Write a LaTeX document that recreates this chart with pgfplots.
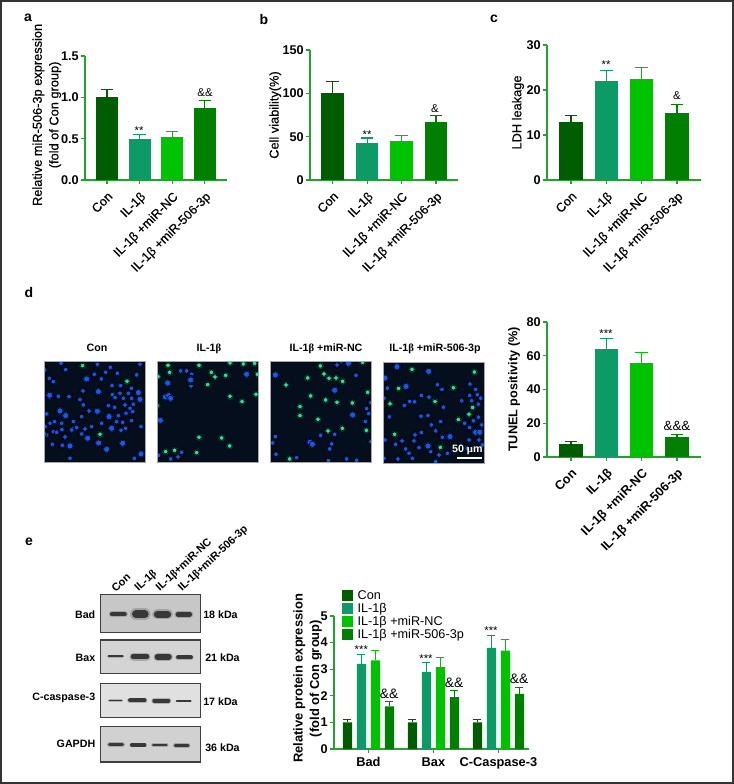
\documentclass[border=0pt]{standalone}
\usepackage{fontspec}
\usepackage{pgfplots}
\pgfplotsset{compat=1.18}
\setmainfont{Liberation Sans}
\newfontfamily\grk{Liberation Serif}
\newfontfamily\medf[FakeBold=0.4]{Liberation Sans}

% 1 px of the reference = 0.75pt here
\definecolor{cCon}{HTML}{005C00}
\definecolor{cIL}{HTML}{0C9A66}
\definecolor{cNC}{HTML}{00C200}
\definecolor{cMi}{HTML}{007F00}
\definecolor{axg}{HTML}{22A22E}
\definecolor{cellbg}{HTML}{040E1C}
\definecolor{cblue}{HTML}{1B58E6}
\definecolor{cgreen}{HTML}{22E2A6}

\newcommand{\fs}[1]{\fontsize{#1}{#1}\selectfont}

\pgfplotsset{
  panel/.style={scale only axis, anchor=south west,
    axis x line=bottom, axis y line=left,
    axis line style={draw=axg, line width=1pt, -},
    tick style={draw=axg, line width=0.9pt},
    tick align=outside, major tick length=3pt,
    ymin=0,
    y tick label style={font=\fs{9.5}\bfseries, inner sep=1.5pt,
      /pgf/number format/assume math mode=true},
    ylabel style={font=\fontsize{9.6}{12.5}\selectfont\medf, align=center}},
  cats/.style={xtick={0,1,2,3},
    xticklabels={Con,IL-1β,IL-1β +miR-NC,IL-1β +miR-506-3p},
    x tick label style={rotate=45, anchor=north east, inner sep=1.5pt, yshift=-2pt, xshift=-2pt, font=\fs{9.5}\medf}},
  hb/.style 2 args={draw=none, fill=#1,
    error bars/y dir=plus, error bars/y explicit,
    error bars/error bar style={draw=#1, line width=0.8pt},
    error bars/error mark options={rotate=90, draw=#1, line width=0.8pt, mark size=#2}},
  cellimg/.style={scale only axis, anchor=south west, width=75.75pt, height=76pt,
    y dir=reverse, ticks=none, axis line style={draw=none},
    axis background/.style={fill=cellbg}},
  blot/.style={scale only axis, anchor=south west, width=75pt,
    xmin=302, xmax=602, y dir=reverse, ticks=none,
    axis line style={draw=black!75, line width=0.8pt},
    axis background/.style={fill=#1}}
}

% a group of blurred cells: colour, three radii, points
\newcommand{\cellset}[5]{%
  \addplot[only marks, mark=*, mark size=#2, mark options={draw=none, fill=#1!50!cellbg}] coordinates {#5};
  \addplot[only marks, mark=*, mark size=#3, mark options={draw=none, fill=#1!85!cellbg}] coordinates {#5};
  \addplot[only marks, mark=*, mark size=#4, mark options={draw=none, fill=#1}] coordinates {#5};
}
% a blot band: x0, x1, y, thickness (crop units)
\newcommand{\band}[4]{%
  \addplot[no markers, line cap=round, line width=#4*0.3pt, color=black!50, opacity=0.5] coordinates {(#1,#3) (#2,#3)};
  \addplot[no markers, line cap=round, line width=#4*0.2pt, color=black!78] coordinates {(#1,#3) (#2,#3)};
}

\begin{document}
\begin{tikzpicture}
\useasboundingbox (0,0) rectangle (550.5pt,-588pt);

% a
\begin{axis}[panel, cats, at={(63.75pt,-135pt)}, width=106.5pt, height=93pt,
  xmin=-0.675, xmax=3.68, ymax=1.5, ytick={0,0.5,1,1.5}, bar width=16.5pt,
  y tick label style={/pgf/number format/fixed, /pgf/number format/fixed zerofill, /pgf/number format/precision=1},
  ylabel shift=-5pt, ylabel style={at={(ticklabel cs:0.525)}},
  ylabel={Relative miR-506-3p expression\\(fold of Con group)}]
\addplot[ybar, hb={cCon}{4.7pt}] coordinates {(0,1.0) +- (0,0.1)};
\addplot[ybar, hb={cIL}{4.7pt}] coordinates {(1,0.49) +- (0,0.055)};
\addplot[ybar, hb={cNC}{4.7pt}] coordinates {(2,0.52) +- (0,0.065)};
\addplot[ybar, hb={cMi}{4.7pt}] coordinates {(3,0.87) +- (0,0.095)};
\end{axis}

% b
\begin{axis}[panel, cats, at={(232.5pt,-135pt)}, width=111pt, height=97.5pt,
  xmin=-0.66, xmax=3.64, ymax=150, ytick={0,50,100,150}, bar width=17pt,
  ylabel shift=-4pt,
  ylabel={Cell viability(\%)}]
\addplot[ybar, hb={cCon}{4.7pt}] coordinates {(0,100) +- (0,13.5)};
\addplot[ybar, hb={cIL}{4.7pt}] coordinates {(1,43) +- (0,5.5)};
\addplot[ybar, hb={cNC}{4.7pt}] coordinates {(2,45) +- (0,6.5)};
\addplot[ybar, hb={cMi}{4.7pt}] coordinates {(3,66.5) +- (0,7.5)};
\end{axis}

% c
\begin{axis}[panel, cats, at={(410.25pt,-135pt)}, width=115.5pt, height=101.25pt,
  xmin=-0.68, xmax=3.68, ymax=30, ytick={0,10,20,30}, bar width=17.6pt,
  ylabel shift=-3pt,
  ylabel={LDH leakage}]
\addplot[ybar, hb={cCon}{4.7pt}] coordinates {(0,13) +- (0,1.3)};
\addplot[ybar, hb={cIL}{4.7pt}] coordinates {(1,22) +- (0,2.4)};
\addplot[ybar, hb={cNC}{4.7pt}] coordinates {(2,22.4) +- (0,2.6)};
\addplot[ybar, hb={cMi}{4.7pt}] coordinates {(3,15) +- (0,1.7)};
\end{axis}

% d, bars
\begin{axis}[panel, cats, at={(410.25pt,-342.75pt)}, width=115.5pt, height=101.25pt,
  xmin=-0.68, xmax=3.68, ymax=80, ytick={0,20,40,60,80}, bar width=17.6pt,
  x tick label style={font=\fs{9.5}\bfseries},
  ylabel style={font=\fs{9.5}\bfseries},
  ylabel={TUNEL positivity (\%)}]
\addplot[ybar, hb={cCon}{4.7pt}] coordinates {(0,8) +- (0,1)};
\addplot[ybar, hb={cIL}{4.7pt}] coordinates {(1,63.8) +- (0,6.7)};
\addplot[ybar, hb={cNC}{4.7pt}] coordinates {(2,56) +- (0,6)};
\addplot[ybar, hb={cMi}{4.7pt}] coordinates {(3,12) +- (0,1.5)};
\end{axis}

% d, cell images, in coordinates of crops at 3x
\begin{axis}[cellimg, at={(33pt,-346.7pt)}, xmin=12, xmax=315, ymin=18, ymax=322]
\cellset{cblue}{2.8pt}{2.3pt}{1.7pt}{(63,25)(77,44)(28,70)(40,80)(14,45)(172,28)(211,37)(197,52)(232,55)(163,58)(290,60)(300,28)(184,72)(129,108)(216,92)(242,92)(274,100)(55,124)(87,125)(120,134)(130,150)(217,119)(240,115)(265,115)(275,130)(225,128)(250,130)(280,148)(205,152)(224,157)(255,150)(270,160)(147,168)(125,185)(20,177)(100,200)(235,182)(258,175)(278,170)(30,205)(44,200)(15,215)(65,205)(98,222)(66,224)(40,230)(20,240)(50,232)(110,218)(95,225)(125,237)(135,222)(155,215)(185,205)(230,200)(248,202)(275,197)(257,220)(303,215)(75,246)(37,268)(67,271)(90,310)(283,310)(14,237)(243,226)}
\cellset{cblue}{3.6pt}{3pt}{2.3pt}{(29,121)(60,168)(77,182)(172,169)(175,110)(140,72)(295,113)(300,133)(90,273)(207,185)(215,220)(176,264)(248,265)(303,297)(143,250)(200,283)}
\cellset{cgreen}{2.9pt}{2.3pt}{1.7pt}{(128,32)(261,79)(180,238)}
\end{axis}
\begin{axis}[cellimg, at={(117.75pt,-346.7pt)}, xmin=12, xmax=315, ymin=18, ymax=322]
\cellset{cblue}{2.8pt}{2.3pt}{1.7pt}{(83,48)(101,48)(116,58)(114,93)(86,292)(17,301)(75,306)(53,312)}
\cellset{cblue}{3.6pt}{3pt}{2.3pt}{(44,84)(37,126)(47,122)(53,130)(22,196)(281,58)(113,75)}
\cellset{cgreen}{2.9pt}{2.3pt}{1.7pt}{(45,31)(50,52)(15,65)(138,31)(175,52)(186,66)(218,61)(164,89)(231,24)(271,27)(305,25)(313,58)(231,124)(267,140)(309,118)(12,152)(138,247)(206,249)(230,273)(38,290)(65,286)(131,293)}
\end{axis}
\begin{axis}[cellimg, at={(202.5pt,-346.7pt)}, xmin=12, xmax=315, ymin=18, ymax=322]
\cellset{cblue}{2.8pt}{2.3pt}{1.7pt}{(213,30)(270,61)(315,143)(302,161)(308,176)(298,200)(164,241)(206,238)(28,245)(20,264)(197,267)(191,282)(30,298)(92,308)(187,317)(242,312)(272,316)(315,260)(225,18)}
\cellset{cblue}{3.6pt}{3pt}{2.3pt}{(28,60)(247,25)(132,262)(139,268)(260,180)(206,106)}
\cellset{cgreen}{2.9pt}{2.3pt}{1.7pt}{(163,33)(290,22)(125,69)(174,57)(189,70)(210,69)(230,79)(60,90)(134,123)(179,135)(213,142)(259,144)(305,112)(102,155)(102,182)(156,193)(229,220)(186,228)(301,226)(71,312)}
\end{axis}
\begin{axis}[cellimg, at={(287.25pt,-347.5pt)}, xmin=12, xmax=315, ymin=22, ymax=325]
\cellset{cblue}{2.8pt}{2.3pt}{1.7pt}{(175,90)(189,104)(273,88)(290,104)(25,100)(127,122)(150,127)(272,122)(295,120)(305,130)(15,130)(278,138)(298,148)(92,140)(107,141)(76,152)(193,157)(248,138)(126,184)(147,182)(31,186)(185,200)(157,210)(257,205)(272,218)(283,198)(298,187)(308,210)(127,233)(108,240)(170,228)(190,247)(270,255)(300,255)(18,255)(50,268)(69,258)(105,258)(120,278)(80,282)(90,295)(57,312)(100,310)(155,290)(180,300)(15,310)(265,280)(170,320)(205,295)(310,270)}
\cellset{cblue}{3.6pt}{3pt}{2.3pt}{(54,36)(149,50)(81,95)(18,70)(147,273)(213,245)(290,232)(302,232)}
\cellset{cgreen}{2.9pt}{2.3pt}{1.7pt}{(99,44)(286,52)(59,101)(223,99)(33,147)(168,140)(281,158)(270,178)(238,194)(47,238)(184,277)}
\addplot[no markers, white, line width=1.4pt] coordinates {(235,308) (308,308)};
\end{axis}

% e, blots
\begin{axis}[blot=black!22, at={(75.5pt,-474.2pt)}, height=28pt, ymin=225, ymax=337]
\band{336}{374}{283}{16}\band{408}{434}{283}{30}\band{472}{503}{283}{26}\band{534}{569}{283}{18}
\end{axis}
\begin{axis}[blot=black!17, at={(75.5pt,-505pt)}, height=25pt, ymin=360, ymax=460]
\band{326}{368}{409}{7}\band{400}{440}{410}{20}\band{472}{507}{411}{20}\band{534}{573}{412}{14}
\end{axis}
\begin{axis}[blot=black!12, at={(75.5pt,-538pt)}, height=25.5pt, ymin=490, ymax=592]
\band{328}{365}{541}{6}\band{390}{434}{541}{14}\band{463}{505}{542}{15}\band{530}{572}{543}{6}
\end{axis}
\begin{axis}[blot=black!18, at={(75.5pt,-571.5pt)}, height=26.5pt, ymin=620, ymax=726]
\band{329}{367}{674}{13}\band{395}{434}{675}{12}\band{460}{499}{675}{11}\band{526}{564}{676}{12}
\end{axis}

% e, grouped bars
\begin{axis}[panel, at={(250.5pt,-561.75pt)}, width=146.25pt, height=99.75pt,
  ybar=3.5pt, bar width=7pt,
  xmin=-0.53, xmax=2.47, ymax=5, ytick={0,1,2,3,4,5},
  xtick={0,1,2}, xticklabels={Bad,Bax,C-Caspase-3},
  x tick label style={anchor=north, font=\fs{9.6}\bfseries, inner sep=3pt},
  ylabel style={font=\fontsize{9.7}{12.5}\selectfont\bfseries, at={(ticklabel cs:0.53)}},
  ylabel shift=-6pt,
  ylabel={Relative protein expression\\(fold of Con group)},
  legend style={at={(axis description cs:0.04,1.2)}, anchor=north west, draw=none, fill=none,
    inner sep=0pt, row sep=0.75pt, font=\fs{9.5},
    nodes={inner sep=0pt, text height=7pt, text depth=2pt}},
  legend cell align=left,
  legend image code/.code={\fill[#1] (0pt,-3.9pt) rectangle (7.9pt,3.9pt); \path (11.7pt,0pt);}]
\addplot[hb={cCon}{3pt}] coordinates {(0,1) +- (0,0.1) (1,1) +- (0,0.1) (2,1) +- (0,0.1)};
\addplot[hb={cIL}{3pt}] coordinates {(0,3.2) +- (0,0.35) (1,2.9) +- (0,0.35) (2,3.8) +- (0,0.45)};
\addplot[hb={cNC}{3pt}] coordinates {(0,3.33) +- (0,0.37) (1,3.08) +- (0,0.37) (2,3.7) +- (0,0.4)};
\addplot[hb={cMi}{3pt}] coordinates {(0,1.6) +- (0,0.2) (1,1.95) +- (0,0.25) (2,2.07) +- (0,0.25)};
\addlegendentry{Con}
\addlegendentry{IL-1β}
\addlegendentry{IL-1β +miR-NC}
\addlegendentry{IL-1β +miR-506-3p}
\end{axis}

\begin{scope}[x=0.75pt, y=-0.75pt]
% white mat round the cell images, cells at the rim end at the image edge
\fill[white, even odd rule] (34,355) rectangle (494,470)
  (44,361.6) rectangle (145,462.3) (157,361.6) rectangle (258,462.3)
  (270,361.6) rectangle (371,462.3) (383,362.3) rectangle (484,463.3);
\draw[gray!70, line width=0.4pt] (44,361.6) rectangle (145,462.3) (157,361.6) rectangle (258,462.3)
  (270,361.6) rectangle (371,462.3) (383,362.3) rectangle (484,463.3);
% frame of the figure
\draw[black!80, line width=1.2pt] (1,1) rectangle (733,783);
% panel letters
\foreach \t/\a/\b in {a/28/18, b/264/19, c/494/19, d/29/292, e/29/542}
  \node[font=\fs{10.5}\bfseries] at (\a,\b) {\t};
% significance marks
\foreach \t/\a/\b/\s in {**/139/131/8.5, &&/205/93/8.5, **/367/135/8.5, &/435/109/8.5,
    **/606/65/8.5, &/677/96/8.5, ***/606/334/8.5, &&&/677/426/10,
    ***/361.3/650/8.5, ***/426/659/8.5, ***/491/631/8.5,
    &&/389/694/10.3, &&/454/683/10.3, &&/519/679/10.3}
  {\node[inner sep=0pt, font=\fs{\s}] at (\a,\b) {\ifx\t\empty\fi\detokenize\expandafter{\t}};}
% d titles
\node[font=\fs{8}\bfseries] at (97,348) {Con};
\node[font=\fs{8}\bfseries] at (209,349) {IL-1{\grk β}};
\node[font=\fs{8}\bfseries] at (326,349) {IL-1{\grk β} +miR-NC};
\node[font=\fs{8}\bfseries] at (435,349) {IL-1{\grk β} +miR-506-3p};
\node[font=\fs{8}\bfseries, white, inner sep=0pt] at (467.3,450) {50 {\grk µ}m};
% blot texts
\foreach \t/\b in {Bad/615, Bax/657.7, C-caspase-3/697.7, GAPDH/744}
  \node[font=\fs{8}\bfseries, anchor=east, inner sep=0pt] at (95.5,\b) {\t};
\foreach \t/\a/\b in {18 kDa/203/615, 21 kDa/205/657.7, 17 kDa/203/701.7, 36 kDa/205/747.7}
  \node[font=\fs{8}\bfseries, anchor=west, inner sep=0pt] at (\a,\b) {\t};
\foreach \t/\a in {Con/113, IL-1{\grk β}/136.7, IL-1{\grk β}+miR-NC/157.7, IL-1{\grk β}+miR-506-3p/180}
  \node[font=\fs{8.2}\bfseries, rotate=43, anchor=west, inner sep=0pt] at (\a,590) {\t};
\end{scope}
\end{tikzpicture}
\end{document}
